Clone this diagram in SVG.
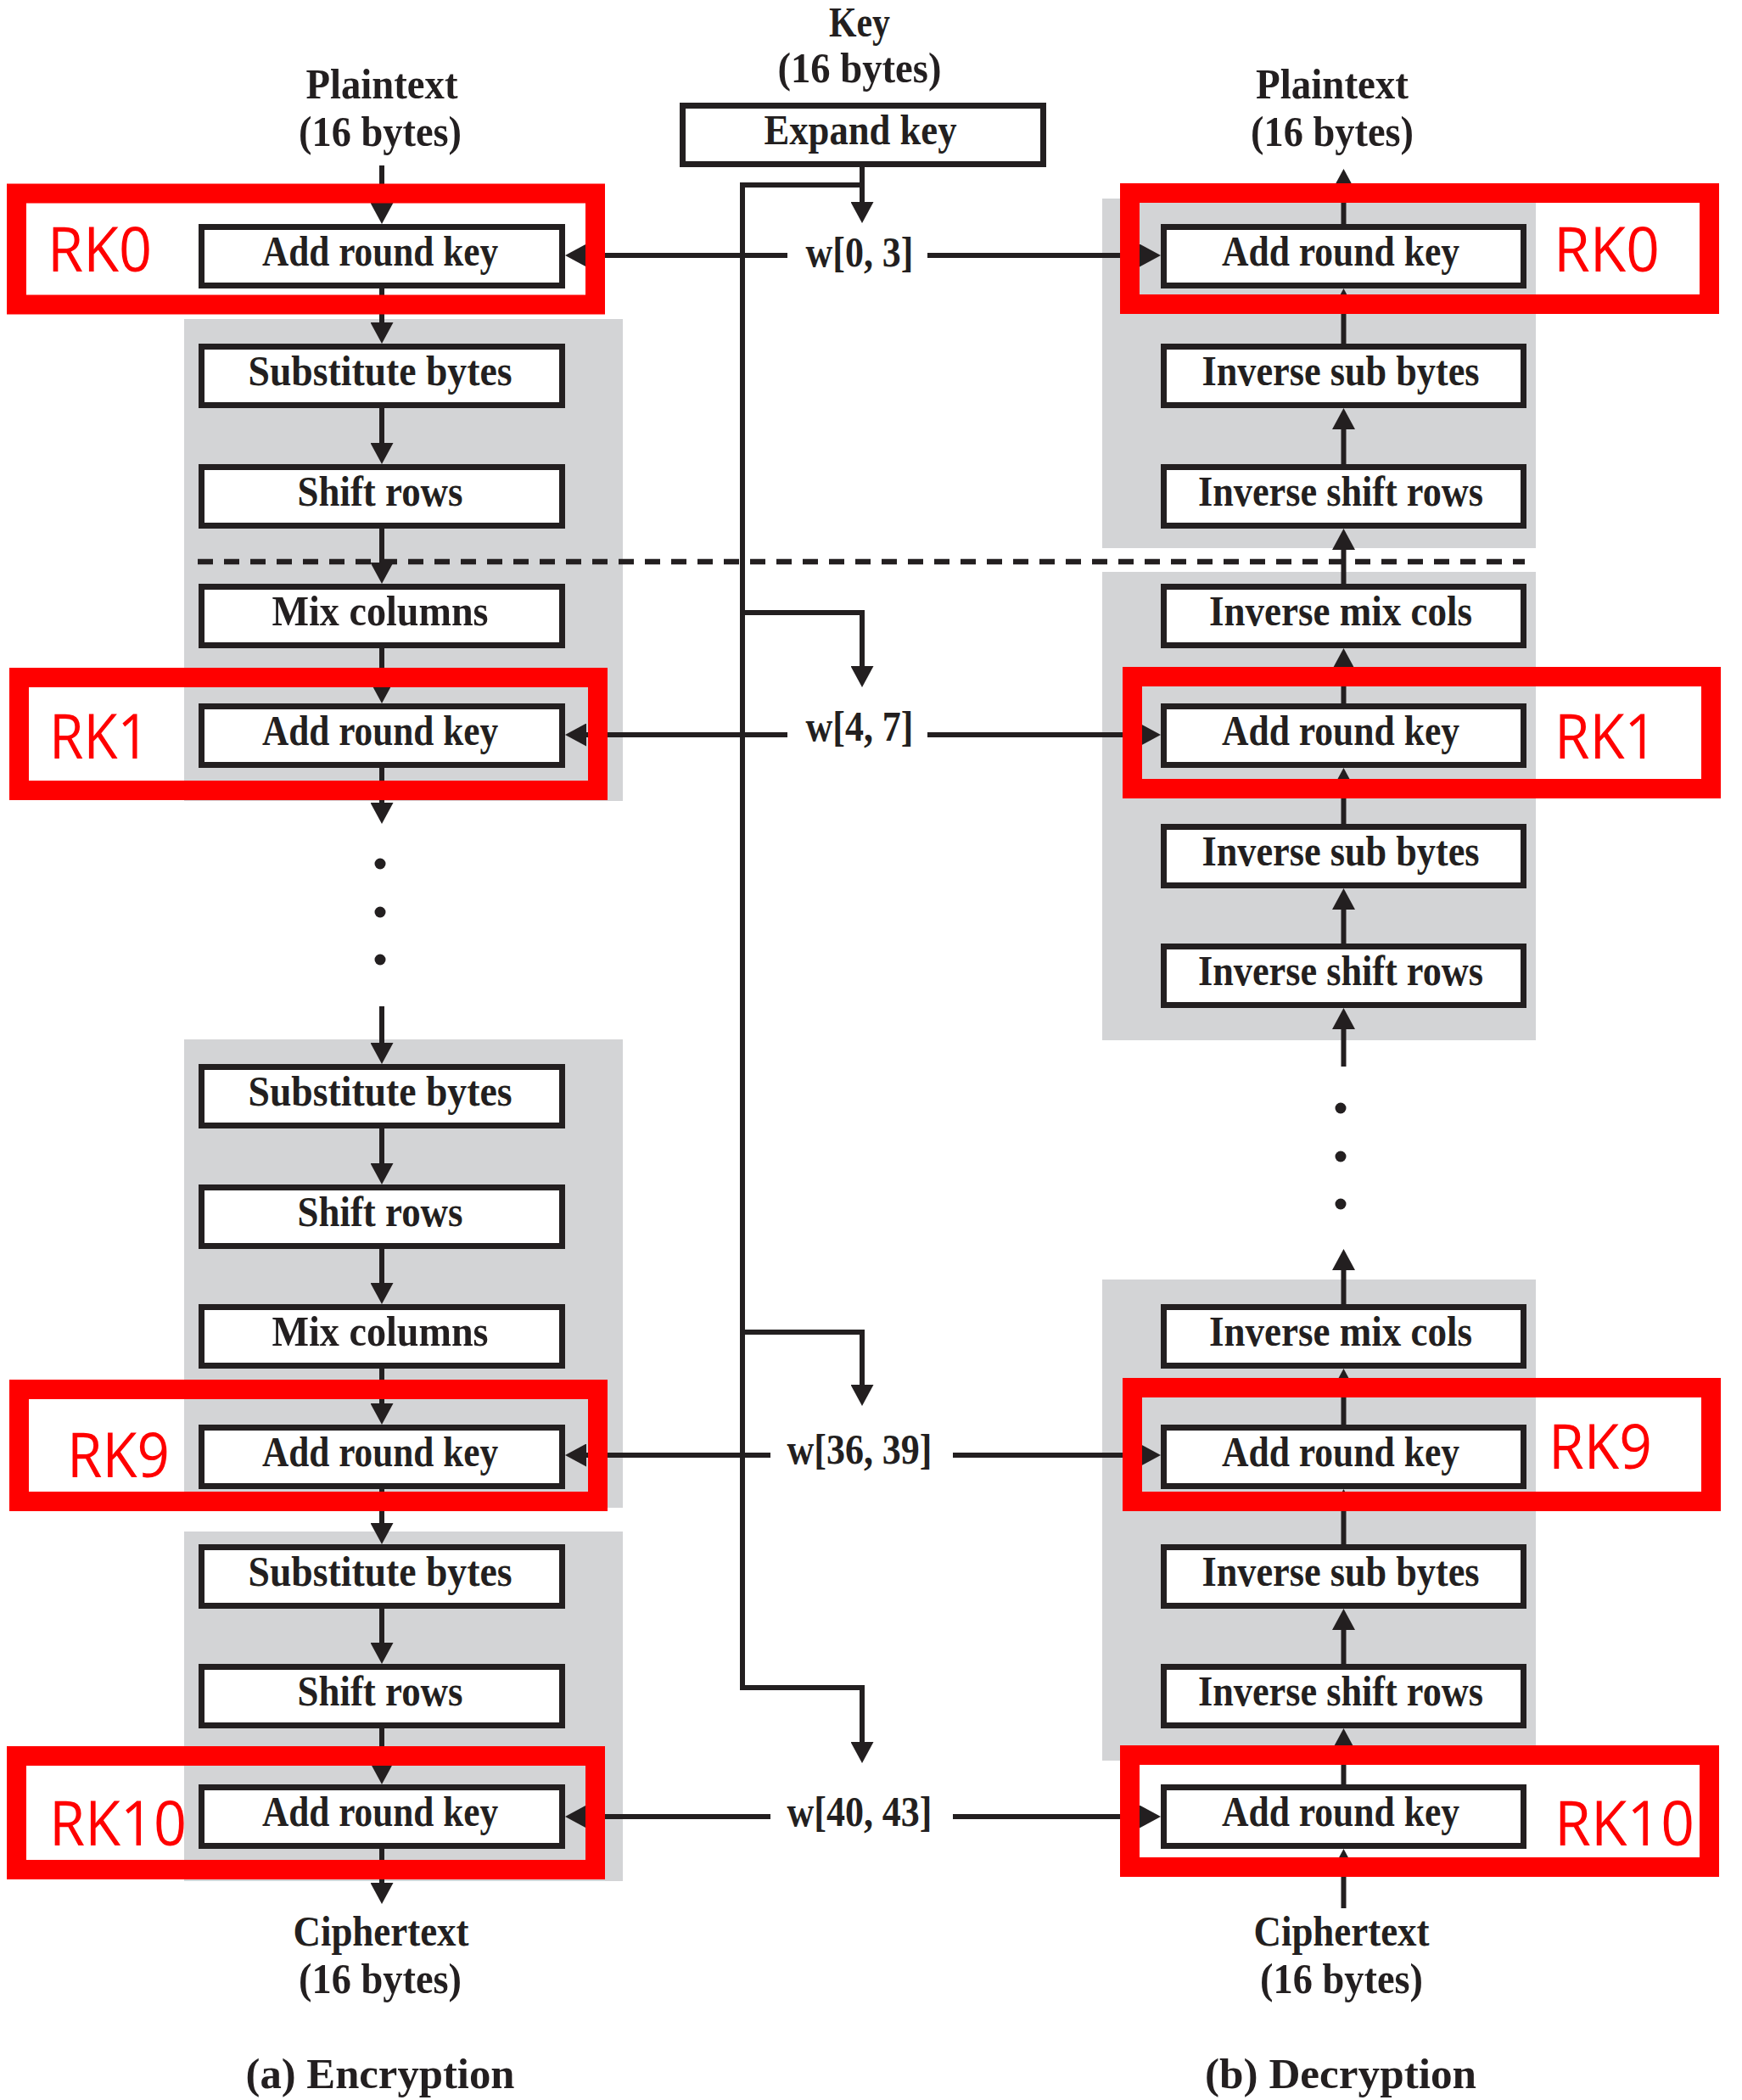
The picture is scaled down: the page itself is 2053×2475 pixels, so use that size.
<svg xmlns="http://www.w3.org/2000/svg" width="2053" height="2475" viewBox="0 0 2053 2475">
<style>
.bg{fill:#ffffff}
.gray{fill:#d3d4d6}
.box{fill:#ffffff;stroke:#231f20;stroke-width:7}
.lbl{font-family:"Liberation Serif","Times New Roman",serif;font-weight:bold;font-size:50px;fill:#231f20;text-anchor:middle}
.conn{fill:none;stroke:#231f20;stroke-width:6;stroke-linejoin:miter}
.dash{fill:none;stroke:#231f20;stroke-width:6.5;stroke-dasharray:18 13}
.rk{fill:none;stroke:#ff0000;stroke-width:23}
.rkt{font-family:"Open Sans","Noto Sans",sans-serif;font-size:74px;fill:#ff0000}
.dot{fill:#231f20}
</style>
<defs>
<marker id="ah" markerUnits="userSpaceOnUse" markerWidth="25" markerHeight="27" refX="17" refY="13.5" orient="auto">
<path d="M0,0 L25,13.5 L0,27 Z" fill="#231f20"/>
</marker>
</defs>
<rect class="bg" x="0" y="0" width="2053" height="2475"/>
<g id="backgrounds">
<rect class="gray" x="217" y="376" width="517" height="568"/>
<rect class="gray" x="217" y="1225" width="517" height="552"/>
<rect class="gray" x="217" y="1805" width="517" height="412"/>
<rect class="gray" x="1299" y="234" width="511" height="412"/>
<rect class="gray" x="1299" y="674" width="511" height="552"/>
<rect class="gray" x="1299" y="1508" width="511" height="567"/>
</g>
<g id="connectors">
<path class="dash" d="M233,662 H1797"/>
<g marker-end="url(#ah)">
<path class="conn" d="M450,195 V256"/>
<path class="conn" d="M450,340 V397"/>
<path class="conn" d="M450,481 V539"/>
<path class="conn" d="M450,623 V680"/>
<path class="conn" d="M450,764 V821"/>
<path class="conn" d="M450,905 V963"/>
<path class="conn" d="M450,1186 V1246"/>
<path class="conn" d="M450,1330 V1388"/>
<path class="conn" d="M450,1472 V1529"/>
<path class="conn" d="M450,1613 V1671"/>
<path class="conn" d="M450,1755 V1812"/>
<path class="conn" d="M450,1896 V1953"/>
<path class="conn" d="M450,2037 V2095"/>
<path class="conn" d="M450,2179 V2236"/>
<path class="conn" d="M1583.5,264 V207"/>
<path class="conn" d="M1583.5,405 V348"/>
<path class="conn" d="M1583.5,547 V489"/>
<path class="conn" d="M1583.5,688 V631"/>
<path class="conn" d="M1583.5,829 V772"/>
<path class="conn" d="M1583.5,971 V913"/>
<path class="conn" d="M1583.5,1112 V1055"/>
<path class="conn" d="M1583.5,1257 V1196"/>
<path class="conn" d="M1583.5,1537 V1480"/>
<path class="conn" d="M1583.5,1679 V1621"/>
<path class="conn" d="M1583.5,1820 V1763"/>
<path class="conn" d="M1583.5,1961 V1904"/>
<path class="conn" d="M1583.5,2103 V2045"/>
<path class="conn" d="M1583.5,2249 V2187"/>
<path class="conn" d="M1016,197 V255"/>
<path class="conn" d="M1016,218 H875 V1989 H1016 V2070"/>
<path class="conn" d="M875,722 H1016 V802"/>
<path class="conn" d="M875,1570 H1016 V1649"/>
<path class="conn" d="M928,301 H674"/>
<path class="conn" d="M1093,301 H1360"/>
<path class="conn" d="M928,866 H674"/>
<path class="conn" d="M1093,866 H1360"/>
<path class="conn" d="M908,1715 H674"/>
<path class="conn" d="M1123,1715 H1360"/>
<path class="conn" d="M908,2141 H674"/>
<path class="conn" d="M1123,2141 H1360"/>
</g>
</g>
<g id="ellipsis-enc">
<circle class="dot" cx="448" cy="1018" r="6.5"/>
<circle class="dot" cx="448" cy="1075" r="6.5"/>
<circle class="dot" cx="448" cy="1131" r="6.5"/>
</g>
<g id="ellipsis-dec">
<circle class="dot" cx="1580" cy="1306" r="6.5"/>
<circle class="dot" cx="1580" cy="1363" r="6.5"/>
<circle class="dot" cx="1580" cy="1419" r="6.5"/>
</g>
<g id="key-input"><text class="lbl" x="1013" y="43" textLength="72" lengthAdjust="spacingAndGlyphs">Key</text><text class="lbl" x="1013" y="97" textLength="193" lengthAdjust="spacingAndGlyphs">(16 bytes)</text></g>
<g id="expand-key"><rect class="box" x="804.5" y="124.5" width="425" height="69"/><text class="lbl" x="1014" y="170" textLength="227" lengthAdjust="spacingAndGlyphs">Expand key</text></g>
<g id="enc-plaintext"><text class="lbl" x="450" y="116" textLength="179" lengthAdjust="spacingAndGlyphs">Plaintext</text><text class="lbl" x="448" y="172" textLength="192" lengthAdjust="spacingAndGlyphs">(16 bytes)</text></g>
<g id="dec-plaintext"><text class="lbl" x="1570" y="116" textLength="180" lengthAdjust="spacingAndGlyphs">Plaintext</text><text class="lbl" x="1570" y="172" textLength="192" lengthAdjust="spacingAndGlyphs">(16 bytes)</text></g>
<g id="enc-ciphertext"><text class="lbl" x="449" y="2293" textLength="207" lengthAdjust="spacingAndGlyphs">Ciphertext</text><text class="lbl" x="448" y="2349" textLength="192" lengthAdjust="spacingAndGlyphs">(16 bytes)</text></g>
<g id="dec-ciphertext"><text class="lbl" x="1581" y="2293" textLength="207" lengthAdjust="spacingAndGlyphs">Ciphertext</text><text class="lbl" x="1581" y="2349" textLength="192" lengthAdjust="spacingAndGlyphs">(16 bytes)</text></g>
<g id="caption-enc"><text class="lbl" x="448" y="2461" textLength="317" lengthAdjust="spacingAndGlyphs">(a) Encryption</text></g>
<g id="caption-dec"><text class="lbl" x="1580" y="2461" textLength="320" lengthAdjust="spacingAndGlyphs">(b) Decryption</text></g>
<g id="w0-3"><text class="lbl" x="1013" y="314" textLength="127" lengthAdjust="spacingAndGlyphs">w[0, 3]</text></g>
<g id="w4-7"><text class="lbl" x="1013" y="873" textLength="127" lengthAdjust="spacingAndGlyphs">w[4, 7]</text></g>
<g id="w36-39"><text class="lbl" x="1013" y="1725" textLength="171" lengthAdjust="spacingAndGlyphs">w[36, 39]</text></g>
<g id="w40-43"><text class="lbl" x="1013" y="2152" textLength="171" lengthAdjust="spacingAndGlyphs">w[40, 43]</text></g>
<g id="enc-ark0"><rect class="box" x="237.5" y="267.5" width="425" height="69"/><text class="lbl" x="448" y="313" textLength="278" lengthAdjust="spacingAndGlyphs">Add round key</text></g>
<g id="enc-sb1"><rect class="box" x="237.5" y="408.5" width="425" height="69"/><text class="lbl" x="448" y="454" textLength="311" lengthAdjust="spacingAndGlyphs">Substitute bytes</text></g>
<g id="enc-sr1"><rect class="box" x="237.5" y="550.5" width="425" height="69"/><text class="lbl" x="448" y="596" textLength="195" lengthAdjust="spacingAndGlyphs">Shift rows</text></g>
<g id="enc-mc1"><rect class="box" x="237.5" y="691.5" width="425" height="69"/><text class="lbl" x="448" y="737" textLength="255" lengthAdjust="spacingAndGlyphs">Mix columns</text></g>
<g id="enc-ark1"><rect class="box" x="237.5" y="832.5" width="425" height="69"/><text class="lbl" x="448" y="878" textLength="278" lengthAdjust="spacingAndGlyphs">Add round key</text></g>
<g id="enc-sb9"><rect class="box" x="237.5" y="1257.5" width="425" height="69"/><text class="lbl" x="448" y="1303" textLength="311" lengthAdjust="spacingAndGlyphs">Substitute bytes</text></g>
<g id="enc-sr9"><rect class="box" x="237.5" y="1399.5" width="425" height="69"/><text class="lbl" x="448" y="1445" textLength="195" lengthAdjust="spacingAndGlyphs">Shift rows</text></g>
<g id="enc-mc9"><rect class="box" x="237.5" y="1540.5" width="425" height="69"/><text class="lbl" x="448" y="1586" textLength="255" lengthAdjust="spacingAndGlyphs">Mix columns</text></g>
<g id="enc-ark9"><rect class="box" x="237.5" y="1682.5" width="425" height="69"/><text class="lbl" x="448" y="1728" textLength="278" lengthAdjust="spacingAndGlyphs">Add round key</text></g>
<g id="enc-sb10"><rect class="box" x="237.5" y="1823.5" width="425" height="69"/><text class="lbl" x="448" y="1869" textLength="311" lengthAdjust="spacingAndGlyphs">Substitute bytes</text></g>
<g id="enc-sr10"><rect class="box" x="237.5" y="1964.5" width="425" height="69"/><text class="lbl" x="448" y="2010" textLength="195" lengthAdjust="spacingAndGlyphs">Shift rows</text></g>
<g id="enc-ark10"><rect class="box" x="237.5" y="2106.5" width="425" height="69"/><text class="lbl" x="448" y="2152" textLength="278" lengthAdjust="spacingAndGlyphs">Add round key</text></g>
<g id="dec-ark0"><rect class="box" x="1371.5" y="267.5" width="424" height="69"/><text class="lbl" x="1580" y="313" textLength="280" lengthAdjust="spacingAndGlyphs">Add round key</text></g>
<g id="dec-isb1"><rect class="box" x="1371.5" y="408.5" width="424" height="69"/><text class="lbl" x="1580" y="454" textLength="327" lengthAdjust="spacingAndGlyphs">Inverse sub bytes</text></g>
<g id="dec-isr1"><rect class="box" x="1371.5" y="550.5" width="424" height="69"/><text class="lbl" x="1580" y="596" textLength="336" lengthAdjust="spacingAndGlyphs">Inverse shift rows</text></g>
<g id="dec-imc1"><rect class="box" x="1371.5" y="691.5" width="424" height="69"/><text class="lbl" x="1580" y="737" textLength="310" lengthAdjust="spacingAndGlyphs">Inverse mix cols</text></g>
<g id="dec-ark1"><rect class="box" x="1371.5" y="832.5" width="424" height="69"/><text class="lbl" x="1580" y="878" textLength="280" lengthAdjust="spacingAndGlyphs">Add round key</text></g>
<g id="dec-isb2"><rect class="box" x="1371.5" y="974.5" width="424" height="69"/><text class="lbl" x="1580" y="1020" textLength="327" lengthAdjust="spacingAndGlyphs">Inverse sub bytes</text></g>
<g id="dec-isr2"><rect class="box" x="1371.5" y="1115.5" width="424" height="69"/><text class="lbl" x="1580" y="1161" textLength="336" lengthAdjust="spacingAndGlyphs">Inverse shift rows</text></g>
<g id="dec-imc9"><rect class="box" x="1371.5" y="1540.5" width="424" height="69"/><text class="lbl" x="1580" y="1586" textLength="310" lengthAdjust="spacingAndGlyphs">Inverse mix cols</text></g>
<g id="dec-ark9"><rect class="box" x="1371.5" y="1682.5" width="424" height="69"/><text class="lbl" x="1580" y="1728" textLength="280" lengthAdjust="spacingAndGlyphs">Add round key</text></g>
<g id="dec-isb10"><rect class="box" x="1371.5" y="1823.5" width="424" height="69"/><text class="lbl" x="1580" y="1869" textLength="327" lengthAdjust="spacingAndGlyphs">Inverse sub bytes</text></g>
<g id="dec-isr10"><rect class="box" x="1371.5" y="1964.5" width="424" height="69"/><text class="lbl" x="1580" y="2010" textLength="336" lengthAdjust="spacingAndGlyphs">Inverse shift rows</text></g>
<g id="dec-ark10"><rect class="box" x="1371.5" y="2106.5" width="424" height="69"/><text class="lbl" x="1580" y="2152" textLength="280" lengthAdjust="spacingAndGlyphs">Add round key</text></g>
<g id="rk0-enc"><rect class="rk" x="19.5" y="228" width="682" height="131"/><text class="rkt" x="56" y="320" textLength="123" lengthAdjust="spacingAndGlyphs">RK0</text></g>
<g id="rk0-dec"><rect class="rk" x="1331.5" y="227.5" width="683" height="131"/><text class="rkt" x="1831" y="320" textLength="125" lengthAdjust="spacingAndGlyphs">RK0</text></g>
<g id="rk1-enc"><rect class="rk" x="22.5" y="798.5" width="682" height="133"/><text class="rkt" x="58" y="894" textLength="118" lengthAdjust="spacingAndGlyphs">RK1</text></g>
<g id="rk1-dec"><rect class="rk" x="1334.5" y="797.5" width="682" height="132"/><text class="rkt" x="1832" y="894" textLength="121" lengthAdjust="spacingAndGlyphs">RK1</text></g>
<g id="rk9-enc"><rect class="rk" x="22.5" y="1637.5" width="682" height="132"/><text class="rkt" x="79" y="1741" textLength="121" lengthAdjust="spacingAndGlyphs">RK9</text></g>
<g id="rk9-dec"><rect class="rk" x="1334.5" y="1635.5" width="682" height="134"/><text class="rkt" x="1825" y="1731" textLength="122" lengthAdjust="spacingAndGlyphs">RK9</text></g>
<g id="rk10-enc"><rect class="rk" x="19.5" y="2069.5" width="682" height="134"/><text class="rkt" x="58" y="2175" textLength="162" lengthAdjust="spacingAndGlyphs">RK10</text></g>
<g id="rk10-dec"><rect class="rk" x="1331.5" y="2068.5" width="683" height="132"/><text class="rkt" x="1832" y="2175" textLength="165" lengthAdjust="spacingAndGlyphs">RK10</text></g>
</svg>
